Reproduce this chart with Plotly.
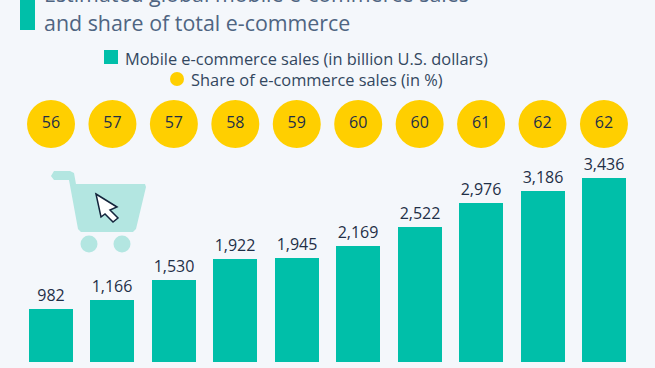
import plotly.graph_objects as go

W, H = 655, 368
years_idx = list(range(10))
sales = [982, 1166, 1530, 1922, 1945, 2169, 2522, 2976, 3186, 3436]
share = [56, 57, 57, 58, 59, 60, 60, 61, 62, 62]
title_lines = ["Estimated global mobile e-commerce sales", "and share of total e-commerce"]
legend_sales = "Mobile e-commerce sales (in billion U.S. dollars)"
legend_share = "Share of e-commerce sales (in %)"

BG = "#f4f7fb"
TEAL = "#00bfa9"
YELLOW = "#ffcf00"
DARK = "#1f2f47"
FONT = "Open Sans"


def px(x):
    return x / W


def py(y):
    return 1 - y / H


def path(points):
    return "M" + " L".join(f"{px(x):.5f},{py(y):.5f}" for x, y in points) + " Z"


fig = go.Figure()
fig.add_bar(
    x=years_idx, y=sales, width=44 / 61.44, marker=dict(color=TEAL, line=dict(width=0)),
    text=[f"{v:,}" for v in sales], textposition="outside", cliponaxis=False,
    textfont=dict(family=FONT, size=16, color=DARK, weight=500), yaxis="y", showlegend=False,
)
fig.add_scatter(
    x=years_idx, y=["share"] * 10, mode="markers+text", yaxis="y2", showlegend=False,
    marker=dict(size=48, color=YELLOW, line=dict(width=0)),
    text=[str(v) for v in share], textposition="middle center",
    textfont=dict(family=FONT, size=16, color=DARK, weight=500),
)

shapes = [
    dict(type="rect", xref="paper", yref="paper", x0=px(20), x1=px(35), y0=py(30), y1=py(-2),
         fillcolor=TEAL, line_width=0),
    dict(type="rect", xref="paper", yref="paper", x0=px(104), x1=px(118), y0=py(64), y1=py(50),
         fillcolor=TEAL, line_width=0),
    dict(type="circle", xref="paper", yref="paper", x0=px(170), x1=px(184), y0=py(86), y1=py(72),
         fillcolor=YELLOW, line_width=0),
    # shopping cart decoration
    dict(type="path", xref="paper", yref="paper", layer="below", line=dict(color="#b3e6e1", width=0),
         fillcolor="#b3e6e1",
         path=path([(54, 171), (70, 171), (74, 173), (76, 184), (145, 184), (146, 187), (136, 229),
                    (133, 232), (81, 232), (78, 229), (69, 180), (54, 180), (51, 176)])),
    dict(type="circle", xref="paper", yref="paper", x0=px(80.5), x1=px(97.5), y0=py(252.5), y1=py(235.5),
         fillcolor="#b3e6e1", line_width=0),
    dict(type="circle", xref="paper", yref="paper", x0=px(113.5), x1=px(130.5), y0=py(252.5), y1=py(235.5),
         fillcolor="#b3e6e1", line_width=0),
    dict(type="path", xref="paper", yref="paper", line=dict(color="#14253c", width=1.5), fillcolor="#ffffff",
         path=path([(96, 194), (117, 207), (110, 210), (118, 218), (113, 222), (105, 214), (101, 217)])),
]

annotations = [
    dict(text=title_lines[0], x=px(44), y=py(8), xanchor="left", yanchor="bottom",
         font=dict(family=FONT, size=21.4, color="#4f6582")),
    dict(text=title_lines[1], x=px(44), y=py(22), xanchor="left", yanchor="middle",
         font=dict(family=FONT, size=21.4, color="#4f6582")),
    dict(text=legend_sales, x=px(125), y=py(58), xanchor="left", yanchor="middle",
         font=dict(family=FONT, size=16.4, color="#33475f")),
    dict(text=legend_share, x=px(191), y=py(79), xanchor="left", yanchor="middle",
         font=dict(family=FONT, size=16.4, color="#33475f")),
]
for a in annotations:
    a.update(xref="paper", yref="paper", showarrow=False, borderpad=0, borderwidth=0)

fig.update_layout(
    width=W, height=H, autosize=False,
    margin=dict(l=0, r=0, t=0, b=0),
    paper_bgcolor=BG, plot_bgcolor=BG,
    shapes=shapes, annotations=annotations, bargap=0,
    xaxis=dict(range=[-51 / 61.44, (655 - 51) / 61.44], visible=False, fixedrange=True),
    yaxis=dict(domain=[6 / H, 1], range=[0, 362 / (184 / 3436)], visible=False, fixedrange=True),
    yaxis2=dict(domain=[1 - 148 / H, 1 - 100 / H], visible=False, fixedrange=True, type="category", anchor="x"),
)

fig.write_html(
    "out.html",
    config={"displayModeBar": False},
    post_script="document.documentElement.style.overflow='hidden';document.body.style.margin='0';document.body.style.background='#f4f7fb';",
)
